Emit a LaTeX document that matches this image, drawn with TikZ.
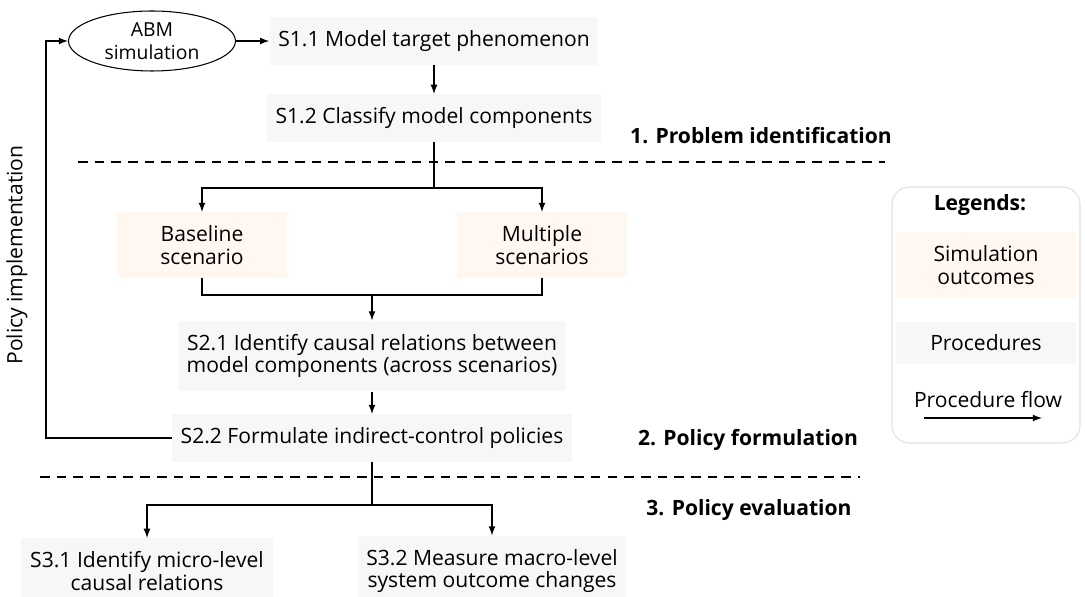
\documentclass[tikz,border=0pt]{standalone}
\usepackage{fontspec}
\setmainfont{Open Sans}
\usetikzlibrary{shapes.geometric}

\begin{document}
\begin{tikzpicture}[x=0.02cm,y=-0.02cm,>=latex,
	proc/.style={fill=black!3,inner xsep=5pt,inner ysep=7.5pt,align=center,font=\fontsize{12}{13}\selectfont},
	outcome/.style={proc,fill=orange!6,minimum width=3.4cm},
	phase/.style={font=\fontsize{12}{14}\selectfont\bfseries},
	flow/.style={line width=0.8pt},
	stage/.style={dash pattern=on 5.5pt off 4pt,line width=0.8pt}]
	\useasboundingbox (0,0) rectangle (1085,597);
	% stage separators
	\draw[stage] (78,162) -- (885,162);
	\draw[stage] (40,477) -- (860,477);
	% nodes
	\node[ellipse,draw,line width=0.6pt,minimum width=3.34cm,minimum height=1.2cm,inner sep=0pt,align=center,font=\fontsize{11}{13}\selectfont] (abm) at (152,41) {ABM\\simulation};
	\node[proc] (s11) at (434,41) {S1.1 Model target phenomenon};
	\node[proc] (s12) at (434,118) {S1.2 Classify model components};
	\node[outcome] (base) at (202,245) {Baseline\\scenario};
	\node[outcome] (multi) at (542,245) {Multiple\\scenarios};
	\node[proc] (s21) at (372,356) {S2.1 Identify causal relations between\\model components (across scenarios)};
	\node[proc] (s22) at (372,438) {S2.2 Formulate indirect-control policies};
	\node[proc] (s31) at (147,571) {S3.1 Identify micro-level\\causal relations};
	\node[proc] (s32) at (492,571) {S3.2 Measure macro-level\\system outcome changes};
	\node[font=\fontsize{12}{14}\selectfont,rotate=90] (impl) at (17,255) {Policy implementation};
	% phases
	\node[phase] (p1) at (761,136) {1. Problem identification};
	\node[phase] (p2) at (748,440) {2. Policy formulation};
	\node[phase] (p3) at (749,510) {3. Policy evaluation};
	% flow
	\draw[flow,->] (abm) -- (s11);
	\draw[flow,->] (s11) -- (s12);
	\coordinate (split1) at (434,188);
	\draw[flow] (s12.south) -- (split1);
	\draw[flow,->] (split1) -| (base.north);
	\draw[flow,->] (split1) -| (multi.north);
	\coordinate (join1) at (372,295);
	\draw[flow] (base.south) |- (join1) -| (multi.south);
	\draw[flow,->] (join1) -- (s21);
	\draw[flow,->] (s21) -- (s22);
	\coordinate (loop) at (46,438);
	\draw[flow,->] (s22.west) -- (loop) |- (abm.west);%feedback
	\coordinate (split2) at (372,505);
	\draw[flow] (s22.south) -- (split2);
	\draw[flow,->] (split2) -| (s31.north);
	\draw[flow,->] (split2) -| (s32.north);
	% legend
	\draw[black!12,line width=0.6pt,rounded corners=10pt] (892,187) rectangle (1080,443);
	\node[phase] (leg) at (980,205) {Legends:};
	\node[outcome,minimum width=3.6cm] (legout) at (986,265) {Simulation\\outcomes};
	\node[proc,minimum width=3.6cm] (legproc) at (986,343) {Procedures};
	\node[font=\fontsize{12}{14}\selectfont] (legflow) at (988,400) {Procedure flow};
	\coordinate (flowa) at (924,418);
	\coordinate (flowb) at (1042,418);
	\draw[flow,->] (flowa) -- (flowb);
\end{tikzpicture}
\end{document}
